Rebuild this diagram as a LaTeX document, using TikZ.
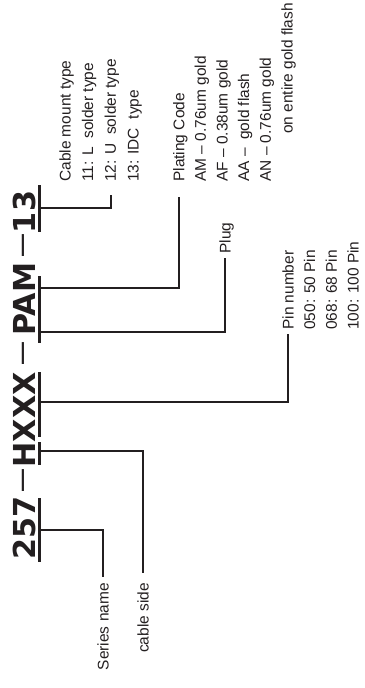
\documentclass[tikz,border=0pt]{standalone}
\usepackage{fontspec}
\setmainfont{Liberation Sans}
\newfontfamily\codefont{DejaVu Sans}
\usepackage{tikz}
\definecolor{PartInk}{HTML}{231F20}

\begin{document}
\begin{tikzpicture}[x=0.25mm, y=0.25mm, rotate=90, transform shape,
    bar/.style={PartInk, line width=0.75mm},
    link/.style={PartInk, line width=0.7mm},
    code/.style={PartInk, font=\codefont\bfseries\fontsize{21.5}{24}\selectfont, inner sep=0pt, anchor=base},
    codedash/.style={PartInk, font=\bfseries\fontsize{15.6}{18}\selectfont, inner sep=0pt, anchor=base},
    note/.style={PartInk, font=\fontsize{11}{15.4}\selectfont, inner sep=0pt, align=left}]
  \useasboundingbox (0,0) rectangle (688,-364);

  % Part number
  \node[code] (c257) at (160,-35) {257};
  \node[codedash] (d1) at (207,-28.8) {—};
  \node[code] (cHXXX) at (268,-35) {HXXX};
  \node[codedash] (d2) at (334,-28.8) {—};
  \node[code] (cPAM) at (389,-35) {PAM};
  \node[codedash] (d3) at (442,-28.8) {—};
  \node[code] (c13) at (476,-35) {13};

  % Brackets under each field
  \draw[bar] (126,-39.5) -- (190,-39.5);
  \draw[bar] (223,-39.5) -- (246,-39.5);
  \draw[bar] (251,-39.5) -- (316,-39.5);
  \draw[bar] (345,-39.5) -- (412,-39.5);
  \draw[bar] (456,-39.5) -- (503,-39.5);
  \coordinate (t257) at (158,-39.5);
  \coordinate (tH) at (237,-39.5);
  \coordinate (tXXX) at (286,-39.5);
  \coordinate (tP) at (356,-39.5);
  \coordinate (tAM) at (400,-39.5);
  \coordinate (t13) at (480,-39.5);

  % Labels (base = baseline of the last line)
  \node[note, anchor=base east] (series) at (105,-108.5) {Series name};
  \node[note, anchor=base east] (cable) at (105,-148.5) {cable side};
  \node[note, anchor=base west] (pin) at (358,-358.5)
    {Pin number\\050: 50 Pin\\068: 68 Pin\\100: 100 Pin};
  \node[note, anchor=base west] (plug) at (434,-230.5) {Plug};
  \node[note, anchor=base west] (plating) at (506,-292.5)
    {Plating Code\\AM – 0.76um gold\\AF – 0.38um gold\\AA –\ \ gold flash\\AN – 0.76um gold\\\hspace*{3.1em}on entire gold flash};
  \node[note, anchor=base west, font=\fontsize{11}{16.1}\selectfont] (mount) at (506,-138.5)
    {Cable mount type\\11: L\ \ solder type\\12: U\ \ solder type\\13: IDC\ \ type};
  \coordinate (seriestip) at (111,-103);
  \coordinate (cabletip) at (115,-143);
  \coordinate (pintip) at (354,-288);
  \coordinate (plugtip) at (430,-225);
  \coordinate (platingtip) at (491,-179);
  \coordinate (mounttip) at (493,-111);

  % Leaders
  \draw[link] (t257) |- (seriestip);
  \draw[link] (tH) |- (cabletip);
  \draw[link] (tXXX) |- (pintip);
  \draw[link] (tP) |- (plugtip);
  \draw[link] (tAM) |- (platingtip);
  \draw[link] (t13) |- (mounttip);
\end{tikzpicture}
\end{document}
